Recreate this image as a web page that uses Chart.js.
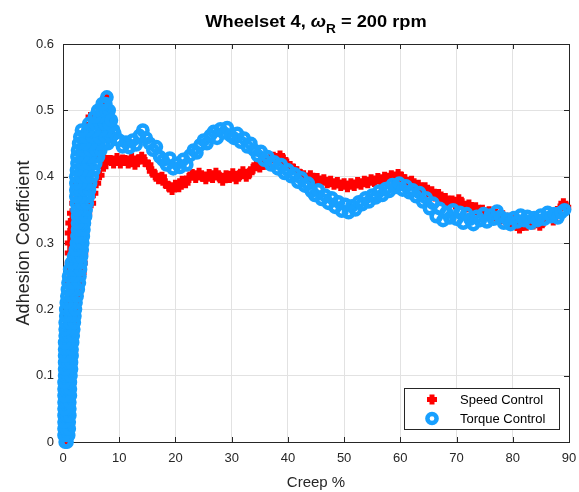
<!DOCTYPE html>
<html>
<head>
<meta charset="utf-8">
<script src="https://cdn.jsdelivr.net/npm/chart.js@4/dist/chart.umd.min.js"></script>
<style>
  body { margin: 0; background: #fff; }
  canvas { display: block; }
</style>
</head>
<body>
<canvas id="grafico" width="579" height="492"></canvas>
<script>
// -------- DADOS --------
const titulo = ["Wheelset 4, ", "ω", "R", " = 200 rpm"];
const rotuloX = "Creep %";
const rotuloY = "Adhesion Coefficient";
const nomes = ["Speed Control", "Torque Control"];

const xTicks = ["0", "10", "20", "30", "40", "50", "60", "70", "80", "90"];
const yTicks = ["0", "0.1", "0.2", "0.3", "0.4", "0.5", "0.6"];

// trecho inicial (0-10 %): [aderência, [creep...]]
const speedInicio = [
  [0.000,[0.3]], [0.015,[0.3,0.9]], [0.030,[0.3,1.1]], [0.045,[0.4,1.2]],
  [0.060,[0.4,1.3]], [0.075,[0.5,1.4]], [0.090,[0.5,1.5]], [0.105,[0.6,1.6]],
  [0.120,[0.6,1.7]], [0.135,[0.7,1.8]], [0.150,[0.8,1.9]], [0.165,[0.8,2.0]],
  [0.180,[0.9,2.1]], [0.195,[0.9,2.2]], [0.210,[1.0,2.4]], [0.225,[1.0,2.7]],
  [0.240,[1.1,3.0]], [0.255,[1.1,3.3]], [0.270,[1.2,3.5]], [0.285,[1.2,3.6]],
  [0.300,[1.2,3.6]], [0.315,[1.2,3.8]], [0.330,[1.3,4.0]], [0.345,[1.6,4.3]],
  [0.360,[2.0,5.0]], [0.375,[2.3,5.4]], [0.390,[2.6,5.9]], [0.402,[2.9,6.5]],
  [0.415,[3.2,7.2]], [0.425,[7.8,8.4]], [0.430,[3.4,6.8]], [0.445,[3.6,6.6]],
  [0.460,[4.0,6.8]], [0.475,[4.4,6.6]], [0.490,[4.9,6.6]], [0.505,[6.6,7.2]],
  [0.518,[7.8]]
];
const torqueInicio = [
  [0.00,[0.4,0.7]], [0.01,[0.2,0.6,1.0]], [0.02,[0.2,0.6,1.1]], [0.03,[0.2,0.7,1.1]],
  [0.04,[0.2,0.7,1.2]], [0.05,[0.2,0.7,1.2]], [0.06,[0.2,0.7,1.2]], [0.07,[0.2,0.8,1.3]],
  [0.08,[0.2,0.8,1.3]], [0.09,[0.2,0.8,1.3]], [0.10,[0.3,0.9,1.4]], [0.11,[0.3,0.9,1.5]],
  [0.12,[0.3,0.9,1.5]], [0.13,[0.3,1.0,1.6]], [0.14,[0.3,1.0,1.6]], [0.15,[0.3,1.0,1.7]],
  [0.16,[0.4,1.1,1.8]], [0.17,[0.4,1.1,1.9]], [0.18,[0.4,1.2,2.0]], [0.19,[0.5,1.3,2.1]],
  [0.20,[0.5,1.3,2.2]], [0.21,[0.6,1.4,2.3]], [0.22,[0.7,1.5,2.5]], [0.23,[0.8,1.7,2.7]],
  [0.24,[0.9,1.8,2.9]], [0.25,[1.0,2.0,3.0]], [0.26,[1.2,2.1,3.1]], [0.27,[1.5,2.3,3.2]],
  [0.28,[1.9,2.6,3.3]], [0.29,[2.2,2.8,3.4]], [0.30,[2.4,2.9,3.5]], [0.31,[2.5,3.0,3.6]],
  [0.32,[2.6,3.1,3.7]], [0.33,[2.6,3.2,3.8]], [0.34,[2.6,3.3,4.0]], [0.35,[2.5,3.3,4.1]],
  [0.36,[2.4,3.3,4.3]], [0.37,[2.3,3.1,3.9,4.5]], [0.38,[2.3,3.1,3.9,4.7]],
  [0.39,[2.3,3.1,4.0,4.9]], [0.40,[2.3,3.2,4.2,5.2]], [0.41,[2.4,3.3,4.4,5.5]],
  [0.42,[2.5,3.5,4.6,5.8]], [0.43,[2.5,3.5,4.7,5.7,6.3]], [0.44,[2.6,3.6,4.8,5.9,6.7]],
  [0.45,[2.8,3.8,5.0,6.2,7.2,8.0]], [0.46,[3.0,4.0,5.2,6.4,7.6,8.6]],
  [0.47,[3.3,4.4,5.6,6.8,8.0,9.0]], [0.48,[4.6,5.6,6.6,7.4,8.2]],
  [0.49,[5.6,6.4,7.2,8.0]], [0.50,[6.2,7.0,7.6,8.2]], [0.51,[7.0,7.6]], [0.52,[7.8]]
];

// Speed Control (vermelho), creep > 8 %
const speedCreep = [
  9.0, 9.6, 10.2, 10.6,
  11.0, 11.6, 12.2, 12.8, 13.4, 14.0, 14.6, 15.2, 15.8, 16.4, 17.0, 17.6, 18.2, 18.8,
  19.4, 20.0, 20.6, 21.2, 21.8, 22.4, 23.0, 23.6, 24.2, 24.8, 25.4, 26.0, 26.6, 27.2,
  27.8, 28.4, 29.0, 29.6, 30.2, 30.8, 31.4, 32.0, 32.6, 33.2, 33.8, 34.4, 35.0, 35.6,
  36.2, 36.8, 37.4, 38.0, 38.6, 39.2, 39.8, 40.4, 41.0, 41.6, 42.2, 42.8, 43.4, 44.0,
  44.6, 45.2, 45.8, 46.4, 47.0, 47.6, 48.2, 48.8, 49.4, 50.0, 50.6, 51.2, 51.8, 52.4,
  53.0, 53.6, 54.2, 54.8, 55.4, 56.0, 56.6, 57.2, 57.8, 58.4, 59.0, 59.6, 60.2, 60.8,
  61.4, 62.0, 62.6, 63.2, 63.8, 64.4, 65.0, 65.6, 66.2, 66.8, 67.4, 68.0, 68.6, 69.2,
  69.8, 70.4, 71.0, 71.6, 72.2, 72.8, 73.4, 74.0, 74.6, 75.2, 75.8, 76.4, 77.0, 77.6,
  78.2, 78.8, 79.4, 80.0, 80.6, 81.2, 81.8, 82.4, 83.0, 83.6, 84.2, 84.8, 85.4, 86.0,
  86.6, 87.2, 87.8, 88.4, 89.0, 89.5
];
const speedAdh = [
  0.420, 0.428, 0.420, 0.426,
  0.425, 0.420, 0.428, 0.418, 0.426, 0.430, 0.422, 0.418, 0.408, 0.402, 0.396, 0.400, 0.390, 0.385,
  0.380, 0.388, 0.384, 0.394, 0.390, 0.398, 0.404, 0.398, 0.406, 0.400, 0.396, 0.404, 0.398, 0.406,
  0.400, 0.394, 0.402, 0.398, 0.405, 0.396, 0.402, 0.408, 0.400, 0.406, 0.412, 0.418, 0.414, 0.422,
  0.418, 0.426, 0.430, 0.424, 0.432, 0.426, 0.420, 0.416, 0.412, 0.408, 0.404, 0.402, 0.398, 0.402,
  0.394, 0.398, 0.392, 0.396, 0.390, 0.394, 0.388, 0.392, 0.386, 0.390, 0.384, 0.390, 0.386, 0.392,
  0.388, 0.394, 0.390, 0.396, 0.392, 0.398, 0.394, 0.400, 0.396, 0.402, 0.398, 0.404, 0.400, 0.396,
  0.392, 0.394, 0.386, 0.388, 0.380, 0.384, 0.376, 0.378, 0.370, 0.374, 0.366, 0.368, 0.360, 0.364,
  0.358, 0.366, 0.360, 0.354, 0.358, 0.350, 0.354, 0.346, 0.350, 0.344, 0.348, 0.340, 0.344, 0.338,
  0.342, 0.332, 0.338, 0.328, 0.334, 0.322, 0.330, 0.326, 0.334, 0.328, 0.334, 0.326, 0.332, 0.336,
  0.340, 0.334, 0.346, 0.352, 0.360, 0.354
];

// Torque Control (azul), creep > 8 %
const torqueCreep = [
  8.6, 9.2, 9.6,
  10.0, 10.6, 11.2, 11.8, 12.4, 13.0, 13.6, 14.2, 14.8, 15.4, 16.0, 16.6, 17.2, 17.8,
  18.4, 19.0, 19.6, 20.2, 20.8, 21.4, 22.0, 22.6, 23.2, 23.8, 24.4, 25.0, 25.6, 26.2,
  26.8, 27.4, 28.0, 28.6, 29.2, 29.8, 30.4, 31.0, 31.6, 32.2, 32.8, 33.4, 34.0, 34.6,
  35.2, 35.8, 36.4, 37.0, 37.6, 38.2, 38.8, 39.4, 40.0, 40.6, 41.2, 41.8, 42.4, 43.0,
  43.6, 44.2, 44.8, 45.4, 46.0, 46.6, 47.2, 47.8, 48.4, 49.0, 49.6, 50.2, 50.8, 51.4,
  52.0, 52.6, 53.2, 53.8, 54.4, 55.0, 55.6, 56.2, 56.8, 57.4, 58.0, 58.6, 59.2, 59.8,
  60.4, 61.0, 61.6, 62.2, 62.8, 63.4, 64.0, 64.6, 65.2, 65.8, 66.4, 67.0, 67.6, 68.2,
  68.8, 69.4, 70.0, 70.6, 71.2, 71.8, 72.4, 73.0, 73.6, 74.2, 74.8, 75.4, 76.0, 76.6,
  77.2, 77.8, 78.4, 79.0, 79.6, 80.2, 80.8, 81.4, 82.0, 82.6, 83.2, 83.8, 84.4, 85.0,
  85.6, 86.2, 86.8, 87.4, 88.0, 88.6, 89.2
];
const torqueAdh = [
  0.485, 0.465, 0.456,
  0.455, 0.445, 0.452, 0.444, 0.455, 0.448, 0.462, 0.470, 0.458, 0.450, 0.440, 0.445, 0.430, 0.425,
  0.418, 0.428, 0.412, 0.420, 0.414, 0.426, 0.418, 0.432, 0.440, 0.436, 0.448, 0.455, 0.450, 0.462,
  0.468, 0.458, 0.472, 0.466, 0.474, 0.462, 0.458, 0.465, 0.452, 0.458, 0.445, 0.450, 0.440, 0.432,
  0.438, 0.425, 0.430, 0.418, 0.422, 0.412, 0.418, 0.405, 0.410, 0.400, 0.404, 0.392, 0.398, 0.386,
  0.390, 0.378, 0.372, 0.380, 0.366, 0.372, 0.360, 0.368, 0.354, 0.362, 0.348, 0.358, 0.346, 0.356,
  0.350, 0.362, 0.358, 0.368, 0.362, 0.372, 0.368, 0.378, 0.372, 0.382, 0.378, 0.388, 0.384, 0.390,
  0.380, 0.386, 0.376, 0.380, 0.370, 0.376, 0.362, 0.368, 0.352, 0.360, 0.340, 0.352, 0.334, 0.346,
  0.338, 0.350, 0.336, 0.346, 0.330, 0.344, 0.336, 0.328, 0.340, 0.334, 0.344, 0.332, 0.342, 0.336,
  0.348, 0.340, 0.330, 0.336, 0.328, 0.338, 0.332, 0.342, 0.334, 0.340, 0.330, 0.338, 0.334, 0.342,
  0.336, 0.346, 0.340, 0.344, 0.338, 0.346, 0.350
];

// -------- CORES --------
const vermelho = "#ff0000";
const azul = "#18a0ff";
const cinzaTexto = "#262626";
const fonte = '"Liberation Sans", Arial, Helvetica, sans-serif';

function pontos(linhas, xs, ys){
    let p = [];
    linhas.forEach(([y, cs], k)=>{
        // alterna o sentido como num registro contínuo
        (k % 2 ? cs.slice().reverse() : cs).forEach(x=>p.push({x:x, y:y}));
    });
    xs.forEach((x,i)=>p.push({x:x, y:ys[i]}));
    return p;
}

// -------- PLUGINS --------
const caixaTicks = {
    id: "caixaTicks",
    beforeDatasetsDraw(chart){
        const {ctx, chartArea:a, scales} = chart;
        ctx.save();
        ctx.strokeStyle = cinzaTexto;
        ctx.lineWidth = 1;
        ctx.beginPath();
        ctx.moveTo(a.left, a.top + 0.5);
        ctx.lineTo(a.right + 0.5, a.top + 0.5);
        ctx.lineTo(a.right + 0.5, a.bottom);
        const t = 5;
        scales.x.ticks.forEach(tk=>{
            const px = Math.round(scales.x.getPixelForValue(tk.value)) + 0.5;
            ctx.moveTo(px, a.bottom); ctx.lineTo(px, a.bottom - t);
            ctx.moveTo(px, a.top); ctx.lineTo(px, a.top + t);
        });
        scales.y.ticks.forEach(tk=>{
            const py = Math.round(scales.y.getPixelForValue(tk.value)) + 0.5;
            ctx.moveTo(a.left, py); ctx.lineTo(a.left + t, py);
            ctx.moveTo(a.right, py); ctx.lineTo(a.right - t, py);
        });
        ctx.stroke();
        ctx.restore();
    }
};

const tituloPlugin = {
    id: "tituloPlugin",
    afterDraw(chart){
        const {ctx, chartArea:a} = chart;
        const esticar = 1.14;
        ctx.save();
        const fN = "bold 16px " + fonte;
        const fW = "italic bold 16px " + fonte;
        const fS = "bold 12px " + fonte;
        ctx.font = fN; const w0 = ctx.measureText(titulo[0]).width;
        ctx.font = fW; const w1 = ctx.measureText(titulo[1]).width;
        ctx.font = fS; const w2 = ctx.measureText(titulo[2]).width;
        ctx.font = fN; const w3 = ctx.measureText(titulo[3]).width;
        const total = (w0 + w1 + w2 + w3) * esticar;
        ctx.translate((a.left + a.right)/2 - total/2, 27);
        ctx.scale(esticar, 1);
        let x = 0;
        ctx.fillStyle = "#000";
        ctx.textBaseline = "alphabetic";
        ctx.textAlign = "left";
        ctx.font = fN; ctx.fillText(titulo[0], x, 0); x += w0;
        ctx.font = fW; ctx.fillText(titulo[1], x, 0); x += w1;
        ctx.font = fS; ctx.fillText(titulo[2], x, 6); x += w2;
        ctx.font = fN; ctx.fillText(titulo[3], x, 0);
        ctx.restore();
    }
};

const legendaPlugin = {
    id: "legendaPlugin",
    afterDraw(chart){
        const {ctx} = chart;
        const bx = 404.5, by = 388.5, bw = 155, bh = 41;
        ctx.save();
        ctx.fillStyle = "#fff";
        ctx.fillRect(bx, by, bw, bh);
        ctx.strokeStyle = cinzaTexto;
        ctx.lineWidth = 1;
        ctx.strokeRect(bx, by, bw, bh);

        // marcador vermelho (cruz cheia)
        ctx.fillStyle = vermelho;
        ctx.fillRect(427, 397, 10, 5);
        ctx.fillRect(429.5, 394.5, 5, 10);

        // marcador azul (anel)
        ctx.strokeStyle = azul;
        ctx.lineWidth = 4.5;
        ctx.beginPath();
        ctx.arc(432, 418.5, 4.6, 0, Math.PI*2);
        ctx.stroke();

        ctx.fillStyle = "#000";
        ctx.font = "13px " + fonte;
        ctx.textBaseline = "middle";
        ctx.fillText(nomes[0], 460, 400);
        ctx.fillText(nomes[1], 460, 419);
        ctx.restore();
    }
};

// -------- GRÁFICO --------
new Chart(document.getElementById("grafico"), {
    type: "scatter",
    data: {
        datasets: [
            {
                label: nomes[0],
                data: pontos(speedInicio, speedCreep, speedAdh),
                pointStyle: "cross",
                pointRadius: 5,
                pointBorderWidth: 5,
                borderColor: vermelho,
                backgroundColor: vermelho,
                clip: false,
                order: 2
            },
            {
                label: nomes[1],
                data: pontos(torqueInicio, torqueCreep, torqueAdh),
                pointStyle: "circle",
                pointRadius: 4.7,
                pointBorderWidth: 4.5,
                borderColor: azul,
                backgroundColor: "rgba(0,0,0,0)",
                clip: false,
                order: 1
            }
        ]
    },
    options: {
        responsive: false,
        animation: false,
        events: [],
        layout: { padding: { top: 44, right: 7, left: 0, bottom: 0 } },
        plugins: {
            legend: { display: false },
            tooltip: { enabled: false }
        },
        scales: {
            x: {
                type: "linear",
                min: 0, max: 90,
                afterFit(s){ s.height = 50; s.paddingLeft = 0; s.paddingRight = 0; },
                ticks: {
                    stepSize: 10,
                    padding: 9,
                    color: cinzaTexto,
                    font: { family: fonte, size: 13 },
                    maxRotation: 0,
                    callback: (v, i) => xTicks[i]
                },
                grid: { color: "#e2e2e2", drawTicks: false },
                border: { color: cinzaTexto, width: 1 },
                title: {
                    display: true,
                    text: rotuloX,
                    color: cinzaTexto,
                    font: { family: fonte, size: 15 },
                    padding: { top: 0, bottom: 0 }
                }
            },
            y: {
                type: "linear",
                min: 0, max: 0.6,
                afterFit(s){ s.width = 63; s.paddingTop = 0; s.paddingBottom = 0; },
                ticks: {
                    stepSize: 0.1,
                    padding: 9,
                    color: cinzaTexto,
                    font: { family: fonte, size: 13 },
                    callback: (v, i) => yTicks[i]
                },
                grid: { color: "#e2e2e2", drawTicks: false },
                border: { color: cinzaTexto, width: 1 },
                title: {
                    display: true,
                    text: rotuloY,
                    color: cinzaTexto,
                    font: { family: fonte, size: 18 },
                    padding: { top: 13, bottom: 0 }
                }
            }
        }
    },
    plugins: [caixaTicks, tituloPlugin, legendaPlugin]
});
</script>
</body>
</html>
